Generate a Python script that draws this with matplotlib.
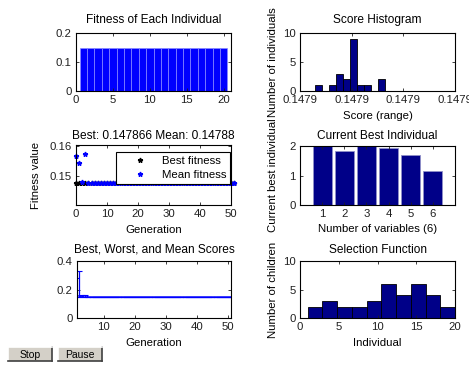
import numpy as np
import matplotlib
matplotlib.use('Agg')
import matplotlib.pyplot as plt

plt.rcParams['font.family'] = ['Liberation Sans', 'DejaVu Sans']
FS = 8.2
plt.rcParams['font.size'] = FS

# fitness of each individual (20 individuals)
individuals = list(range(1, 21))
fitness = [0.1479] * 20

# score histogram
score_bins = [0.1478636, 0.1478663, 0.1478677, 0.1478690, 0.1478704,
              0.1478718, 0.1478731, 0.1478758]
score_counts = [1, 1, 3, 2, 9, 1, 1, 2]
score_ticks = [0.14786, 0.14787, 0.14788, 0.14789]

# fitness per generation
generations = list(range(0, 52))
best_fitness = [0.147866, 0.147866, 0.147866, 0.147866,
                0.147866, 0.147866, 0.147866, 0.147866, 0.147866, 0.147866,
                0.147866, 0.147866, 0.147866, 0.147866, 0.147866, 0.147866,
                0.147866, 0.147866, 0.147866, 0.147866, 0.147866, 0.147866,
                0.147866, 0.147866, 0.147866, 0.147866, 0.147866, 0.147866,
                0.147866, 0.147866, 0.147866, 0.147866, 0.147866, 0.147866,
                0.147866, 0.147866, 0.147866, 0.147866, 0.147866, 0.147866,
                0.147866, 0.147866, 0.147866, 0.147866, 0.147866, 0.147866,
                0.147866, 0.147866, 0.147866, 0.147866, 0.147866, 0.147866]
mean_fitness = [0.1568, 0.1544, 0.1480, 0.1573,
                0.14788, 0.14788, 0.14788, 0.14788, 0.14788, 0.14788,
                0.14788, 0.14788, 0.14788, 0.14788, 0.14788, 0.14788,
                0.14788, 0.14788, 0.14788, 0.14788, 0.14788, 0.14788,
                0.14788, 0.14788, 0.14788, 0.14788, 0.14788, 0.14788,
                0.14788, 0.14788, 0.14788, 0.14788, 0.14788, 0.14788,
                0.14788, 0.14788, 0.14788, 0.14788, 0.14788, 0.14788,
                0.14788, 0.14788, 0.14788, 0.14788, 0.14788, 0.14788,
                0.14788, 0.14788, 0.14788, 0.14788, 0.14788, 0.14788]
worst_fitness = [0.28, 0.33, 0.161, 0.1600,
                 0.1479, 0.1479, 0.1479, 0.1479, 0.1479, 0.1479,
                 0.1479, 0.1479, 0.1479, 0.1479, 0.1479, 0.1479,
                 0.1479, 0.1479, 0.1479, 0.1479, 0.1479, 0.1479,
                 0.1479, 0.1479, 0.1479, 0.1479, 0.1479, 0.1479,
                 0.1479, 0.1479, 0.1479, 0.1479, 0.1479, 0.1479,
                 0.1479, 0.1479, 0.1479, 0.1479, 0.1479, 0.1479,
                 0.1479, 0.1479, 0.1479, 0.1479, 0.1479, 0.1479,
                 0.1479, 0.1479, 0.1479, 0.1479, 0.1479, 0.1479]

# current best individual
variables = [1, 2, 3, 4, 5, 6]
best_individual = [2.05, 1.84, 2.05, 1.92, 1.69, 1.14]

# selection function
selection_counts = [2, 3, 2, 2, 3, 6, 4, 6, 4, 2]

W, H = 469, 367
fig = plt.figure(figsize=(W / 100, H / 100), dpi=100)
fig.patch.set_facecolor('white')


def pix_axes(left, top, right, bottom):
    return fig.add_axes([left / W, 1 - bottom / H, (right - left) / W, (bottom - top) / H])


def style(ax):
    for s in ax.spines.values():
        s.set_linewidth(0.8)
        s.set_color('black')
    ax.tick_params(direction='in', top=True, right=True, length=2.5, width=0.6, pad=3.0,
                   labelsize=FS, colors='#202020')


navy = '#000088'
TFS = 8.6

# Fitness of Each Individual
ax1 = pix_axes(76, 33, 231, 91)
ax1.bar(individuals, fitness, width=1.0, color='#0000ff', edgecolor='#8a8aff', linewidth=0.5)
ax1.set_xlim(0, 21)
ax1.set_ylim(0, 0.2)
ax1.set_xticks([0, 5, 10, 15, 20])
ax1.set_yticks([0, 0.1, 0.2])
ax1.set_yticklabels(['0', '0.1', '0.2'])
ax1.set_title('Fitness of Each Individual', fontsize=TFS, pad=7.5)
style(ax1)

# Score Histogram
ax2 = pix_axes(300, 33, 455, 91)
ax2.bar(score_bins, score_counts, width=1.36e-6, color=navy, edgecolor='black', linewidth=0.6)
ax2.set_xlim(0.14786, 0.14789)
ax2.set_ylim(0, 10)
ax2.set_xticks(score_ticks)
ax2.set_xticklabels(['0.1479'] * 4)
ax2.set_yticks([0, 5, 10])
ax2.set_title('Score Histogram', fontsize=TFS, pad=7.5)
ax2.set_xlabel('Score (range)', labelpad=4.5)
ax2.set_ylabel('Number of individuals')
ax2.yaxis.set_label_coords(-0.14, 0.5)
style(ax2)

# Best / Mean fitness
ax3 = pix_axes(76, 145, 231, 205)
ax3.plot(generations, best_fitness, linestyle='none', marker='*', color='black',
         markersize=3.5, label='Best fitness', clip_on=False)
ax3.plot(generations, mean_fitness, linestyle='none', marker='*', color='#0000ff',
         markersize=3.5, label='Mean fitness', clip_on=False)
ax3.set_xlim(0, 50)
ax3.set_ylim(0.1405, 0.1603)
ax3.set_xticks([0, 10, 20, 30, 40, 50])
ax3.set_yticks([0.15, 0.16])
ax3.set_title('Best: 0.147866 Mean: 0.14788', fontsize=TFS, pad=4.5)
ax3.set_xlabel('Generation', labelpad=4.5)
ax3.set_ylabel('Fitness value')
ax3.yaxis.set_label_coords(-0.226, 0.5)
leg = ax3.legend(loc='upper right', bbox_to_anchor=(0.995, 0.88), fancybox=False,
                 framealpha=1, edgecolor='black', borderpad=0.35, labelspacing=0.35,
                 handlelength=3.6, handletextpad=0.1, fontsize=FS, borderaxespad=0)
leg.get_frame().set_linewidth(0.8)
leg.set_zorder(5)
style(ax3)

# Current Best Individual
ax4 = pix_axes(300, 146, 455, 205)
ax4.bar(variables, best_individual, width=0.86, color=navy, edgecolor='#9090c8', linewidth=0.6)
ax4.set_xlim(0, 7)
ax4.set_ylim(0, 2)
ax4.set_xticks(variables)
ax4.set_yticks([0, 1, 2])
ax4.set_title('Current Best Individual', fontsize=TFS, pad=5)
ax4.set_xlabel('Number of variables (6)', labelpad=3.5)
ax4.set_ylabel('Current best individual')
ax4.yaxis.set_label_coords(-0.14, 0.5)
style(ax4)

# Best, Worst, and Mean Scores
ax5 = pix_axes(77, 261, 231, 318)
x5 = [g + 1 for g in generations]
lower = [m - b for m, b in zip(mean_fitness, best_fitness)]
upper = [w - m for w, m in zip(worst_fitness, mean_fitness)]
ax5.errorbar(x5, mean_fitness, yerr=[lower, upper], color='#0000ff', linewidth=0.9,
             elinewidth=0.9, capsize=2, capthick=0.8)
ax5.set_xlim(1.3, 51)
ax5.set_ylim(0, 0.4)
ax5.set_xticks([10, 20, 30, 40, 50])
ax5.set_yticks([0, 0.2, 0.4])
ax5.set_yticklabels(['0', '0.2', '0.4'])
ax5.set_title('Best, Worst, and Mean Scores', fontsize=TFS, pad=6)
ax5.set_xlabel('Generation', labelpad=4.5)
style(ax5)

# Selection Function
ax6 = pix_axes(300, 261, 455, 318)
sel_edges = np.linspace(1, 20, len(selection_counts) + 1)
ax6.bar(sel_edges[:-1], selection_counts, width=np.diff(sel_edges), align='edge',
        color=navy, edgecolor='black', linewidth=0.6)
ax6.set_xlim(0, 20)
ax6.set_ylim(0, 10)
ax6.set_xticks([0, 5, 10, 15, 20])
ax6.set_yticks([0, 5, 10])
ax6.set_title('Selection Function', fontsize=TFS, pad=6)
ax6.set_xlabel('Individual', labelpad=4.5)
ax6.set_ylabel('Number of children')
ax6.yaxis.set_label_coords(-0.14, 0.5)
style(ax6)


# Stop / Pause buttons
def button(left, top, right, bottom, text):
    b = pix_axes(left, top, right, bottom)
    b.set_facecolor('#d4d0c8')
    b.set_xticks([])
    b.set_yticks([])
    b.spines['top'].set_color('white')
    b.spines['left'].set_color('white')
    b.spines['bottom'].set_color('#404040')
    b.spines['right'].set_color('#404040')
    for s in b.spines.values():
        s.set_linewidth(1.2)
    b.text(0.5, 0.45, text, ha='center', va='center', fontsize=7.5, transform=b.transAxes)


button(8, 347, 52, 361, 'Stop')
button(58, 347, 102, 361, 'Pause')

fig.savefig('out.png', dpi=100)
